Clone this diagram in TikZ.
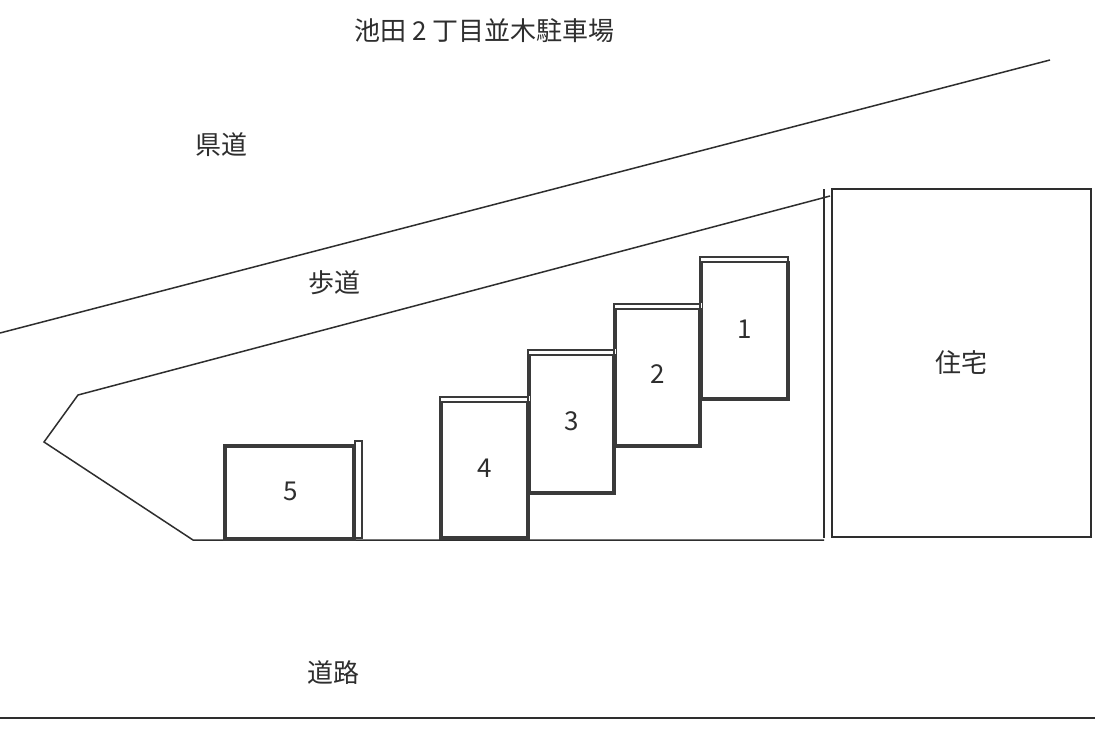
\documentclass[tikz,border=0pt]{standalone}
\usepackage{fontspec}
\setmainfont{Noto Sans CJK JP}
\definecolor{ink}{HTML}{2E2E2E}
\definecolor{stallink}{HTML}{3A3A3A}
\tikzset{
  label text/.style={inner sep=0pt,text=ink,font=\fontsize{26pt}{30pt}\selectfont},
  number text/.style={inner sep=0pt,text=ink,font=\fontsize{26pt}{30pt}\selectfont},
  site line/.style={draw=ink,line width=1.5pt,line join=miter},
  stall frame/.style={draw=stallink,line width=4pt},
  thin frame/.style={draw=stallink,line width=2.4pt}
}
\newcommand{\uprightstall}[5]{% name, left, top, right, bottom
  \coordinate (#1nw) at (#2,#3);
  \coordinate (#1se) at (#4,#5);
  \fill[white] (#1nw) rectangle (#1se);
  \draw[stall frame] (#2+1.5,#3+5) -- (#2+1.5,#5-2) -- (#4-2,#5-2) -- (#4-2,#3+5);
  \draw[thin frame] (#2,#3+1) -- (#4-1,#3+1);
  \draw[thin frame] (#2+2,#3+6) -- (#4-2,#3+6);
  \draw[thin frame] (#4-2,#3+1) -- (#4-2,#3+6);
  \draw[thin frame] (#2+1,#3+1) -- (#2+1,#3+6);
}
\begin{document}
\begin{tikzpicture}[x=1pt,y=-1pt]
\useasboundingbox (0,0) rectangle (1101,737);
\fill[white] (0,0) rectangle (1101,737);
% site outlines
\coordinate (prefL) at (0,333);
\coordinate (prefR) at (1050,60);
\coordinate (walkR) at (830,196);
\coordinate (walkL) at (78,395);
\coordinate (tip) at (44,442);
\coordinate (base) at (193,540);
\coordinate (baseR) at (824,540);
\coordinate (wallT) at (824,189);
\coordinate (wallB) at (824,538);
\coordinate (roadL) at (0,718);
\coordinate (roadR) at (1095,718);
\draw[site line] (prefL) -- (prefR);
\draw[site line] (walkR) -- (walkL) -- (tip) -- (base) -- (baseR);
\draw[draw=ink,line width=2pt] (wallT) -- (wallB);
\draw[site line] (roadL) -- (roadR);
% house
\node[draw=ink,line width=2.2pt,minimum width=259pt,minimum height=348pt,inner sep=0pt,anchor=north west] (house) at (830.5,187.5) {};
\node[label text] (houseLabel) at (961,363) {住宅};
% stalls
\uprightstall{s1}{699}{256}{790}{401}
\uprightstall{s2}{613}{303}{702}{448}
\uprightstall{s3}{527}{349}{616}{495}
\uprightstall{s4}{439}{396}{530}{540}
% stall 5
\draw[stall frame] (225,446) rectangle (354,538.5);
\draw[thin frame] (355,441) rectangle (362,538);
% labels
\node[number text] (n1) at (745,329) {1};
\node[number text] (n2) at (658,374) {2};
\node[number text] (n3) at (572,421) {3};
\node[number text] (n4) at (485,468) {4};
\node[number text] (n5) at (291,491) {5};
\node[label text] (title) at (484.5,31) {池田 2 丁目並木駐車場};
\node[label text] (kendo) at (221,145) {県道};
\node[label text] (hodo) at (334,283) {歩道};
\node[label text] (doro) at (333,673) {道路};
\end{tikzpicture}
\end{document}
